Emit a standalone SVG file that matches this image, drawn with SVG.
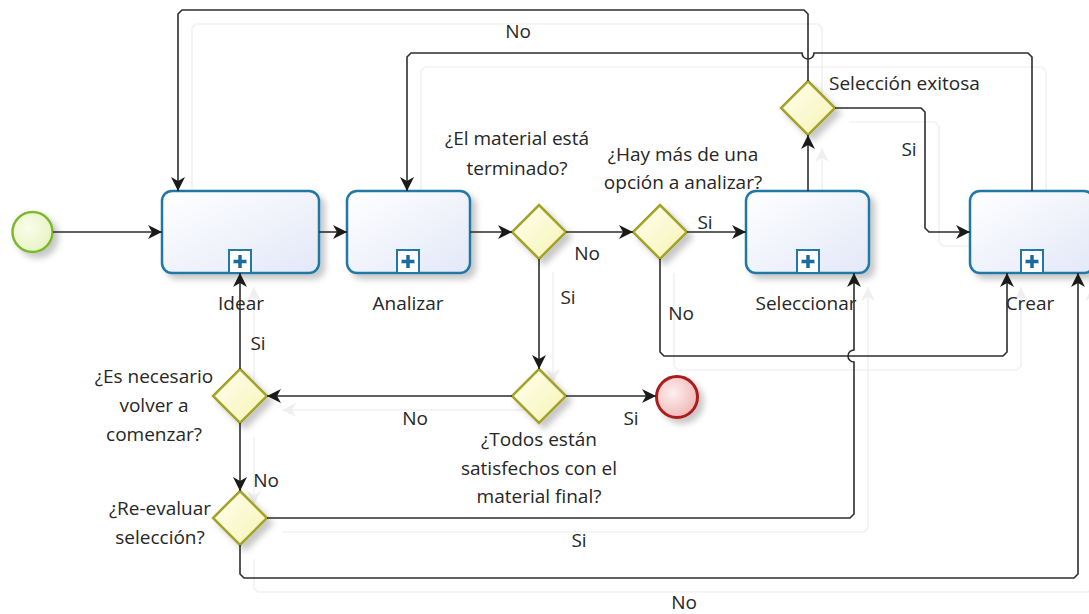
<svg xmlns="http://www.w3.org/2000/svg" width="1089" height="614" viewBox="0 0 1089 614">
<style>
.t{font-family:"Open Sans","Noto Sans","Liberation Sans",sans-serif;font-size:19px;fill:#262626}
.c{text-anchor:middle}
.task{fill:url(#gTask);stroke:#2478a5;stroke-width:2.5}
.plus{fill:#fff;stroke:#2478a5;stroke-width:2}
.pl{stroke:#1c6c9b;stroke-width:3.5;fill:none}
.gw{fill:url(#gGw);stroke:#a3a32a;stroke-width:2.5}
.ln{fill:none;stroke:#2d2d2d;stroke-width:1.6}
.sh{fill:none;stroke:#efefef;stroke-width:1.6}
</style>
<defs>
<linearGradient id="gTask" x1="0" y1="0" x2="1" y2="1"><stop offset="0" stop-color="#ffffff"/><stop offset="1" stop-color="#e3e8f8"/></linearGradient>
<linearGradient id="gGw" x1="0" y1="0" x2="1" y2="1"><stop offset="0" stop-color="#fffff0"/><stop offset="1" stop-color="#f7f3b4"/></linearGradient>
<radialGradient id="gStart" cx="0.4" cy="0.4" r="0.7"><stop offset="0" stop-color="#fbfdea"/><stop offset="1" stop-color="#e4f2c0"/></radialGradient>
<radialGradient id="gEnd" cx="0.4" cy="0.4" r="0.7"><stop offset="0" stop-color="#fdf0f0"/><stop offset="1" stop-color="#efb1b1"/></radialGradient>
<filter id="ds" x="-20%" y="-20%" width="150%" height="150%"><feDropShadow dx="5" dy="5" stdDeviation="3" flood-color="#000" flood-opacity="0.22"/></filter>
<marker id="ar" markerUnits="userSpaceOnUse" markerWidth="16" markerHeight="14" refX="14" refY="7" orient="auto"><path d="M0,0 L14,7 L0,14 L4,7 Z" fill="#1a1a1a"/></marker>
<marker id="ars" markerUnits="userSpaceOnUse" markerWidth="16" markerHeight="14" refX="14" refY="7" orient="auto"><path d="M0,0 L14,7 L0,14 L4,7 Z" fill="#eeeeee"/></marker>
</defs>
<rect width="1089" height="614" fill="#ffffff"/>

<g id="connector-shadows" transform="translate(14,14)" opacity="0.9">
<path class="sh" marker-end="url(#ars)" d="M808,82 V14 L804,10 H182 L178,14 V191"/>
<path class="sh" marker-end="url(#ars)" d="M1032,191 V57 L1028,53 H411 L407,57 V191"/>
<path class="sh" marker-end="url(#ars)" d="M808,191 V134"/>
<path class="sh" marker-end="url(#ars)" d="M835,108 H921 L925,112 V228 L929,232 H970"/>
<path class="sh" marker-end="url(#ars)" d="M660,259 V352 L664,356 H1003 L1007,352 V273"/>
<path class="sh" marker-end="url(#ars)" d="M268,518 H850 L854,514 V273"/>
<path class="sh" marker-end="url(#ars)" d="M240,545 V574 L244,578 H1074 L1078,574 V273"/>
<path class="sh" marker-end="url(#ars)" d="M511,396 H268"/>
<path class="sh" marker-end="url(#ars)" d="M240,369 V273"/>
<path class="sh" marker-end="url(#ars)" d="M240,423 V491"/>
<path class="sh" marker-end="url(#ars)" d="M539,258 V369"/>
</g>

<g id="start"><circle cx="32.5" cy="232" r="20" fill="url(#gStart)" stroke="#7bb92e" stroke-width="2.5" filter="url(#ds)"/></g>

<g id="task-idear">
<rect class="task" x="162" y="191" width="157" height="82" rx="10" filter="url(#ds)"/>
<rect class="plus" x="229" y="250" width="22" height="23"/>
<path class="pl" d="M240,255 V268 M233.5,261.5 H246.5"/>
<text class="t c" x="241" y="310">Idear</text>
</g>
<g id="task-analizar">
<rect class="task" x="347" y="191" width="123" height="82" rx="10" filter="url(#ds)"/>
<rect class="plus" x="397" y="250" width="22" height="23"/>
<path class="pl" d="M408,255 V268 M401.5,261.5 H414.5"/>
<text class="t c" x="408" y="310">Analizar</text>
</g>
<g id="task-seleccionar">
<rect class="task" x="746" y="191" width="123" height="82" rx="10" filter="url(#ds)"/>
<rect class="plus" x="797" y="250" width="22" height="23"/>
<path class="pl" d="M808,255 V268 M801.5,261.5 H814.5"/>
<text class="t c" x="806" y="310">Seleccionar</text>
</g>
<g id="task-crear">
<rect class="task" x="970" y="191" width="124" height="82" rx="10" filter="url(#ds)"/>
<rect class="plus" x="1021" y="250" width="22" height="23"/>
<path class="pl" d="M1032,255 V268 M1025.5,261.5 H1038.5"/>
<text class="t c" x="1030" y="310">Crear</text>
</g>

<g id="gw-terminado">
<path class="gw" d="M539,205 L566,232 L539,259 L512,232 Z" filter="url(#ds)"/>
<text class="t c" x="517" y="145">¿El material está</text>
<text class="t c" x="517" y="175">terminado?</text>
</g>
<g id="gw-opcion">
<path class="gw" d="M660,205 L687,232 L660,259 L633,232 Z" filter="url(#ds)"/>
<text class="t c" x="683" y="161">¿Hay más de una</text>
<text class="t c" x="683" y="189">opción a analizar?</text>
</g>
<g id="gw-exitosa">
<path class="gw" d="M808,81 L835,108 L808,135 L781,108 Z" filter="url(#ds)"/>
<text class="t" x="829" y="90">Selección exitosa</text>
</g>
<g id="gw-satisfechos">
<path class="gw" d="M539,369 L566,396 L539,423 L512,396 Z" filter="url(#ds)"/>
<text class="t c" x="539" y="446">¿Todos están</text>
<text class="t c" x="539" y="475">satisfechos con el</text>
<text class="t c" x="539" y="503">material final?</text>
</g>
<g id="gw-comenzar">
<path class="gw" d="M240,369 L267,396 L240,423 L213,396 Z" filter="url(#ds)"/>
<text class="t c" x="154" y="383">¿Es necesario</text>
<text class="t c" x="154" y="412">volver a</text>
<text class="t c" x="154" y="441">comenzar?</text>
</g>
<g id="gw-reevaluar">
<path class="gw" d="M240,491 L267,518 L240,545 L213,518 Z" filter="url(#ds)"/>
<text class="t c" x="160" y="515">¿Re-evaluar</text>
<text class="t c" x="160" y="544">selección?</text>
</g>
<g id="end"><circle cx="677" cy="397" r="20.5" fill="url(#gEnd)" stroke="#ad1c1c" stroke-width="3" filter="url(#ds)"/></g>

<g id="connectors">
<path class="ln" marker-end="url(#ar)" d="M53,232 H162"/>
<path class="ln" marker-end="url(#ar)" d="M319,232 H347"/>
<path class="ln" marker-end="url(#ar)" d="M470,232 H512"/>
<path class="ln" marker-end="url(#ar)" d="M566,232 H633"/>
<path class="ln" marker-end="url(#ar)" d="M687,232 H746"/>
<path class="ln" marker-end="url(#ar)" d="M660,259 V352 L664,356 H1003 L1007,352 V273"/>
<path class="ln" marker-end="url(#ar)" d="M539,259 V369"/>
<path class="ln" marker-end="url(#ar)" d="M512,396 H267"/>
<path class="ln" marker-end="url(#ar)" d="M566,396 H656"/>
<path class="ln" marker-end="url(#ar)" d="M240,369 V273"/>
<path class="ln" marker-end="url(#ar)" d="M240,423 V491"/>
<path class="ln" marker-end="url(#ar)" d="M267,518 H850 L854,514 V362 A6,6 0 0 1 854,350 V273"/>
<path class="ln" marker-end="url(#ar)" d="M240,545 V574 L244,578 H1074 L1078,574 V273"/>
<path class="ln" marker-end="url(#ar)" d="M808,191 V135"/>
<path class="ln" marker-end="url(#ar)" d="M835,108 H921 L925,112 V228 L929,232 H970"/>
<path class="ln" marker-end="url(#ar)" d="M808,81 V14 L804,10 H182 L178,14 V191"/>
<path class="ln" marker-end="url(#ar)" d="M1032,191 V57 L1028,53 H814 A6,6 0 0 1 802,53 H411 L407,57 V191"/>
<text class="t c" x="518" y="38">No</text>
<text class="t c" x="909" y="156">Si</text>
<text class="t c" x="587" y="260">No</text>
<text class="t c" x="705" y="229">Si</text>
<text class="t c" x="568" y="304">Si</text>
<text class="t c" x="681" y="320">No</text>
<text class="t c" x="258" y="350">Si</text>
<text class="t c" x="415" y="425">No</text>
<text class="t c" x="631" y="425">Si</text>
<text class="t c" x="266" y="487">No</text>
<text class="t c" x="579" y="547">Si</text>
<text class="t c" x="684" y="609">No</text>
</g>
</svg>
